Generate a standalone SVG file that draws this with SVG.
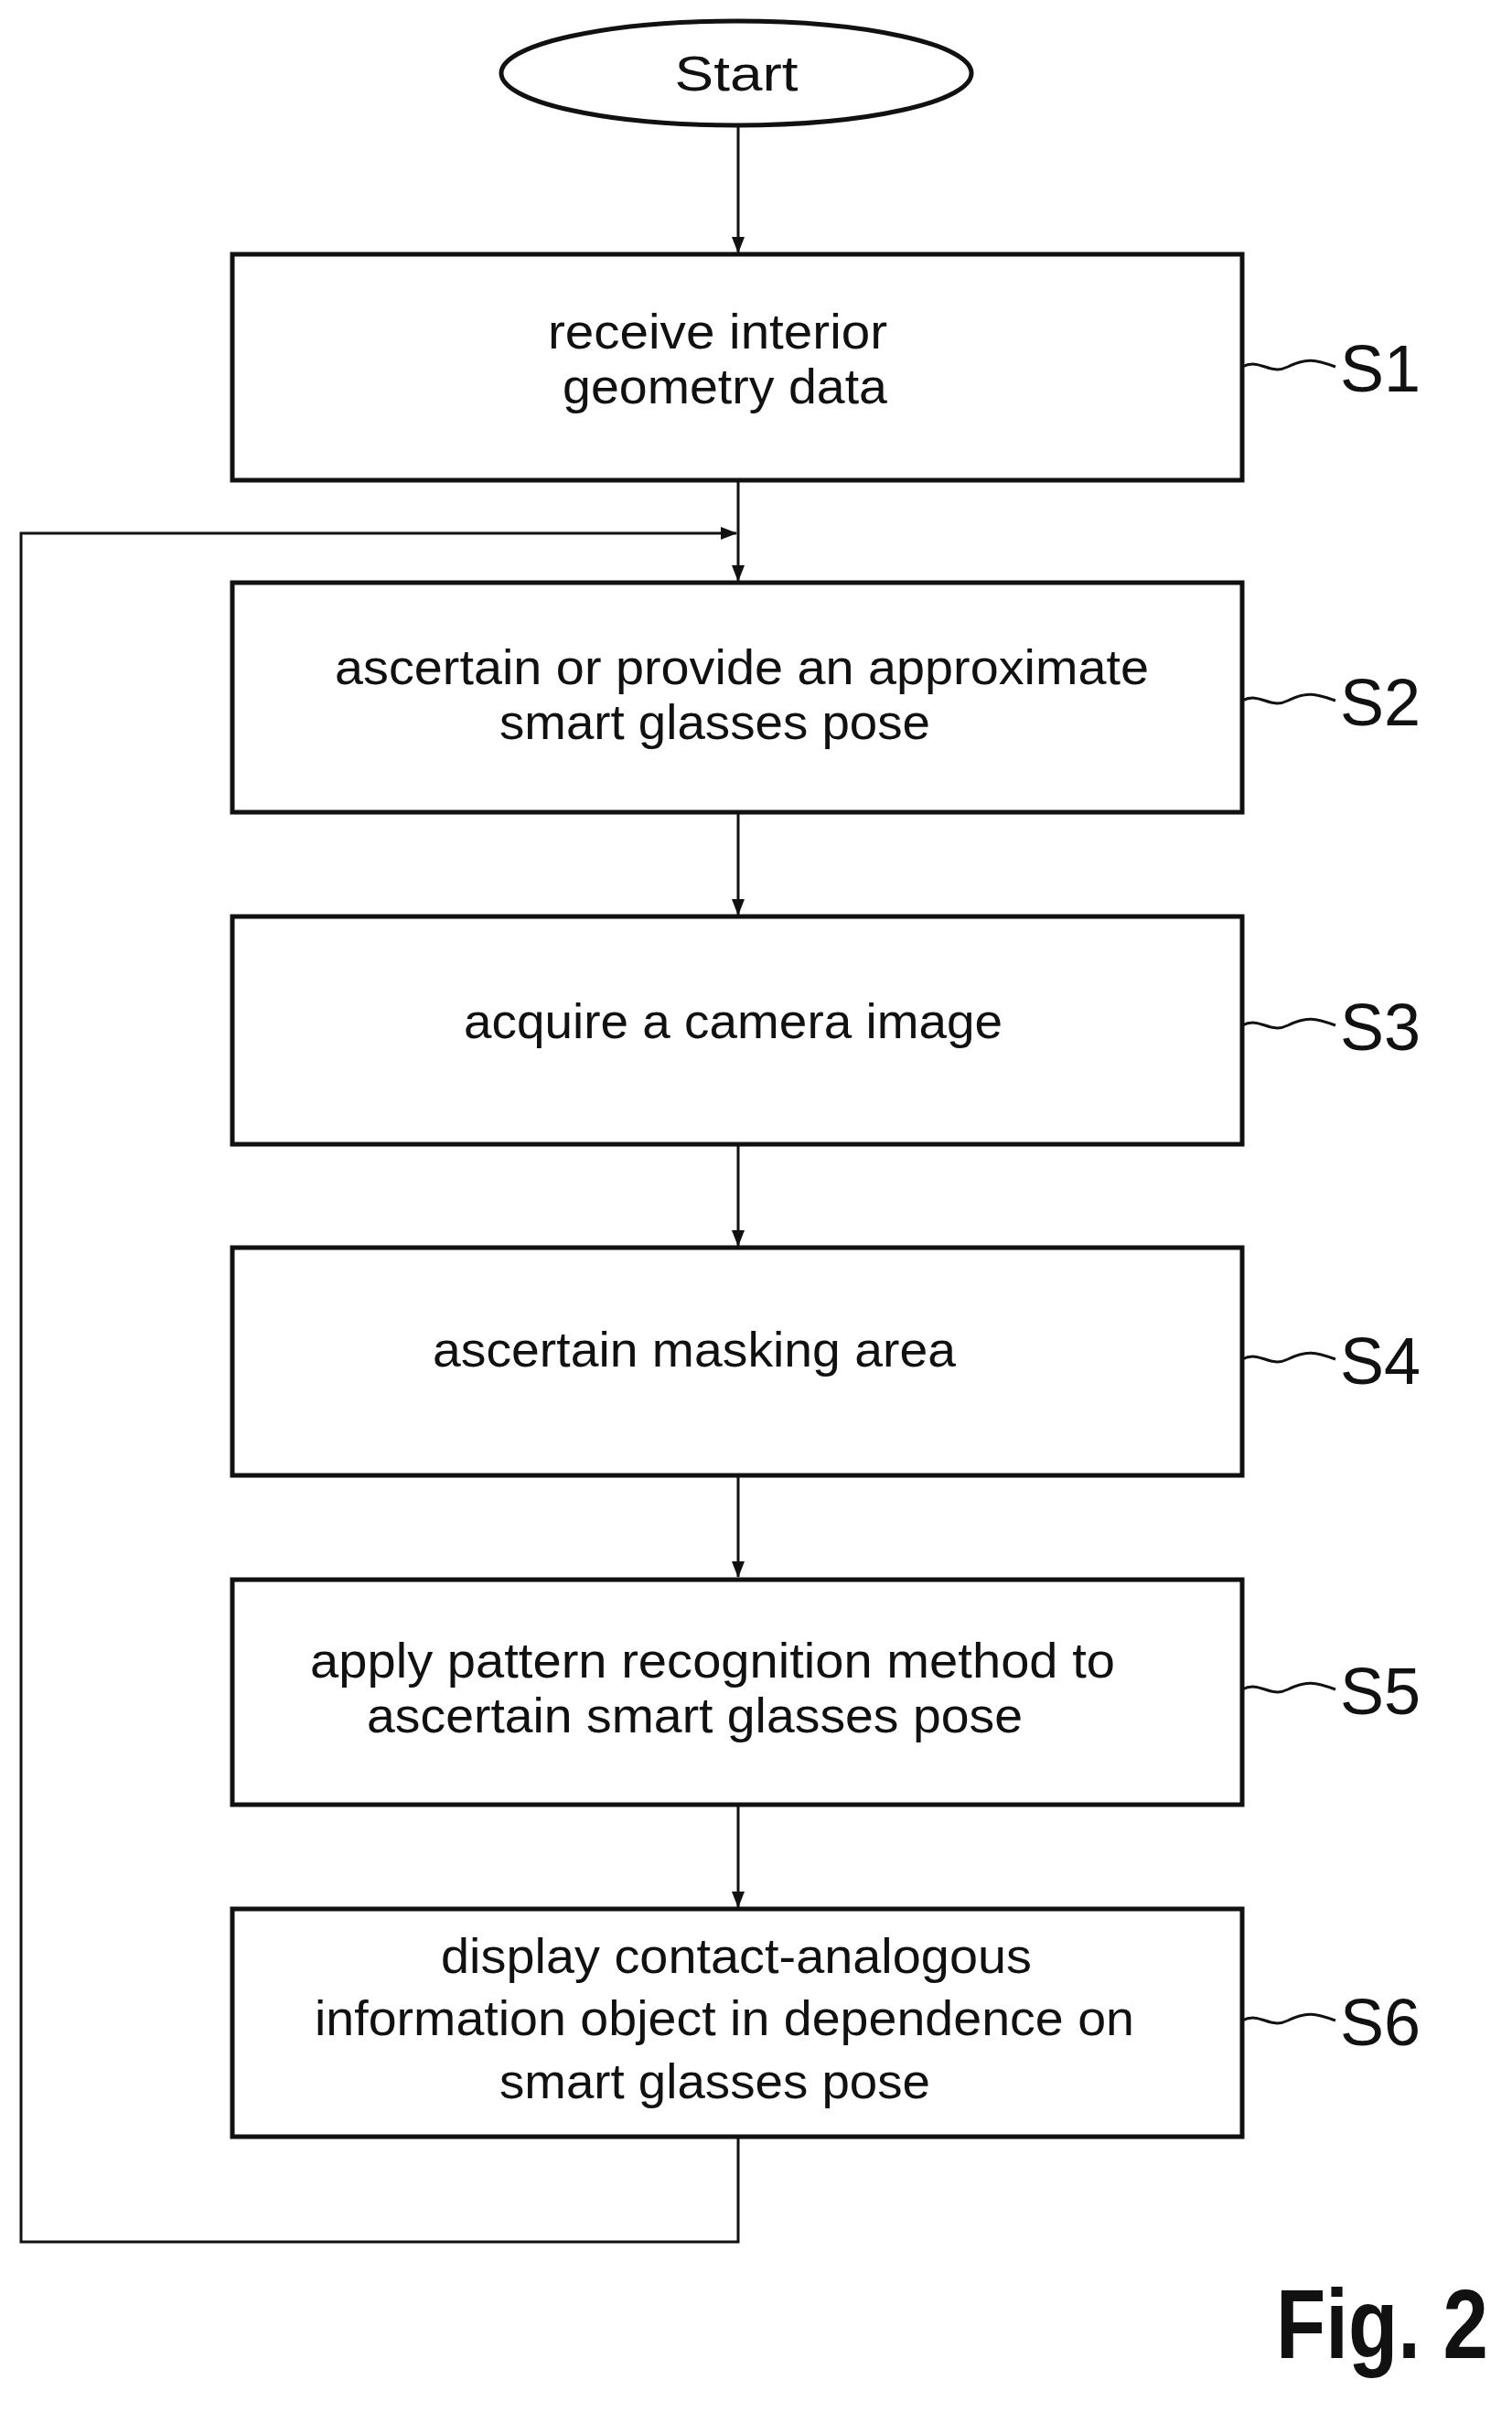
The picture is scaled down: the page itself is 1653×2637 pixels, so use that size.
<svg xmlns="http://www.w3.org/2000/svg" width="1653" height="2637" viewBox="0 0 1653 2637">
<style>
.b{fill:#fff;stroke:#111;stroke-width:5}
.t{font-family:"Liberation Sans",Arial,sans-serif;font-size:54px;fill:#111}
.l{font-family:"Liberation Sans",Arial,sans-serif;font-size:72px;fill:#111}
.c{fill:none;stroke:#111;stroke-width:3}
.w{fill:none;stroke:#111;stroke-width:3}
</style>
<defs><marker id="a" markerWidth="18" markerHeight="14" refX="17" refY="7" orient="auto" markerUnits="userSpaceOnUse" viewBox="0 0 18 14"><path d="M0,0 L18,7 L0,14 z" fill="#111"/></marker></defs>
<rect width="1653" height="2637" fill="#fff"/>
<g id="connectors">
<path class="c" d="M807,138 V276" marker-end="url(#a)"/>
<path class="c" d="M807,525 V635" marker-end="url(#a)"/>
<path class="c" d="M807,888 V1000" marker-end="url(#a)"/>
<path class="c" d="M807,1251 V1362" marker-end="url(#a)"/>
<path class="c" d="M807,1613 V1724" marker-end="url(#a)"/>
<path class="c" d="M807,1973 V2085" marker-end="url(#a)"/>
<path class="c" d="M807,2336 V2451 H23 V583 H805" marker-end="url(#a)"/>
</g>
<g id="start"><ellipse class="b" cx="805" cy="80" rx="257" ry="57"/><text class="t" x="805" y="99" text-anchor="middle" textLength="135" lengthAdjust="spacingAndGlyphs">Start</text></g>
<g id="S1"><rect class="b" x="254" y="278" width="1104" height="247"/>
<text class="t" x="599" y="381" textLength="371" lengthAdjust="spacingAndGlyphs">receive interior</text>
<text class="t" x="615" y="441" textLength="355" lengthAdjust="spacingAndGlyphs">geometry data</text>
<path class="w" d="M1358,401 c20,-10 30,10 50,0 s30,-8 52,0"/><text class="l" x="1465" y="428">S1</text></g>
<g id="S2"><rect class="b" x="254" y="637" width="1104" height="251"/>
<text class="t" x="366" y="748" textLength="890" lengthAdjust="spacingAndGlyphs">ascertain or provide an approximate</text>
<text class="t" x="546" y="808" textLength="471" lengthAdjust="spacingAndGlyphs">smart glasses pose</text>
<path class="w" d="M1358,766 c20,-10 30,10 50,0 s30,-8 52,0"/><text class="l" x="1465" y="793">S2</text></g>
<g id="S3"><rect class="b" x="254" y="1002" width="1104" height="249"/>
<text class="t" x="507" y="1135" textLength="589" lengthAdjust="spacingAndGlyphs">acquire a camera image</text>
<path class="w" d="M1358,1121 c20,-10 30,10 50,0 s30,-8 52,0"/><text class="l" x="1465" y="1148">S3</text></g>
<g id="S4"><rect class="b" x="254" y="1364" width="1104" height="249"/>
<text class="t" x="473" y="1494" textLength="572" lengthAdjust="spacingAndGlyphs">ascertain masking area</text>
<path class="w" d="M1358,1486 c20,-10 30,10 50,0 s30,-8 52,0"/><text class="l" x="1465" y="1513">S4</text></g>
<g id="S5"><rect class="b" x="254" y="1727" width="1104" height="246"/>
<text class="t" x="339" y="1834" textLength="880" lengthAdjust="spacingAndGlyphs">apply pattern recognition method to</text>
<text class="t" x="401" y="1894" textLength="717" lengthAdjust="spacingAndGlyphs">ascertain smart glasses pose</text>
<path class="w" d="M1358,1847 c20,-10 30,10 50,0 s30,-8 52,0"/><text class="l" x="1465" y="1874">S5</text></g>
<g id="S6"><rect class="b" x="254" y="2087" width="1104" height="249"/>
<text class="t" x="482" y="2157" textLength="646" lengthAdjust="spacingAndGlyphs">display contact-analogous</text>
<text class="t" x="344" y="2225" textLength="896" lengthAdjust="spacingAndGlyphs">information object in dependence on</text>
<text class="t" x="546" y="2294" textLength="471" lengthAdjust="spacingAndGlyphs">smart glasses pose</text>
<path class="w" d="M1358,2209 c20,-10 30,10 50,0 s30,-8 52,0"/><text class="l" x="1465" y="2236">S6</text></g>
<text x="1395" y="2578" font-family="Liberation Sans,Arial,sans-serif" font-size="108" font-weight="bold" fill="#111" textLength="232" lengthAdjust="spacingAndGlyphs">Fig. 2</text>
</svg>
